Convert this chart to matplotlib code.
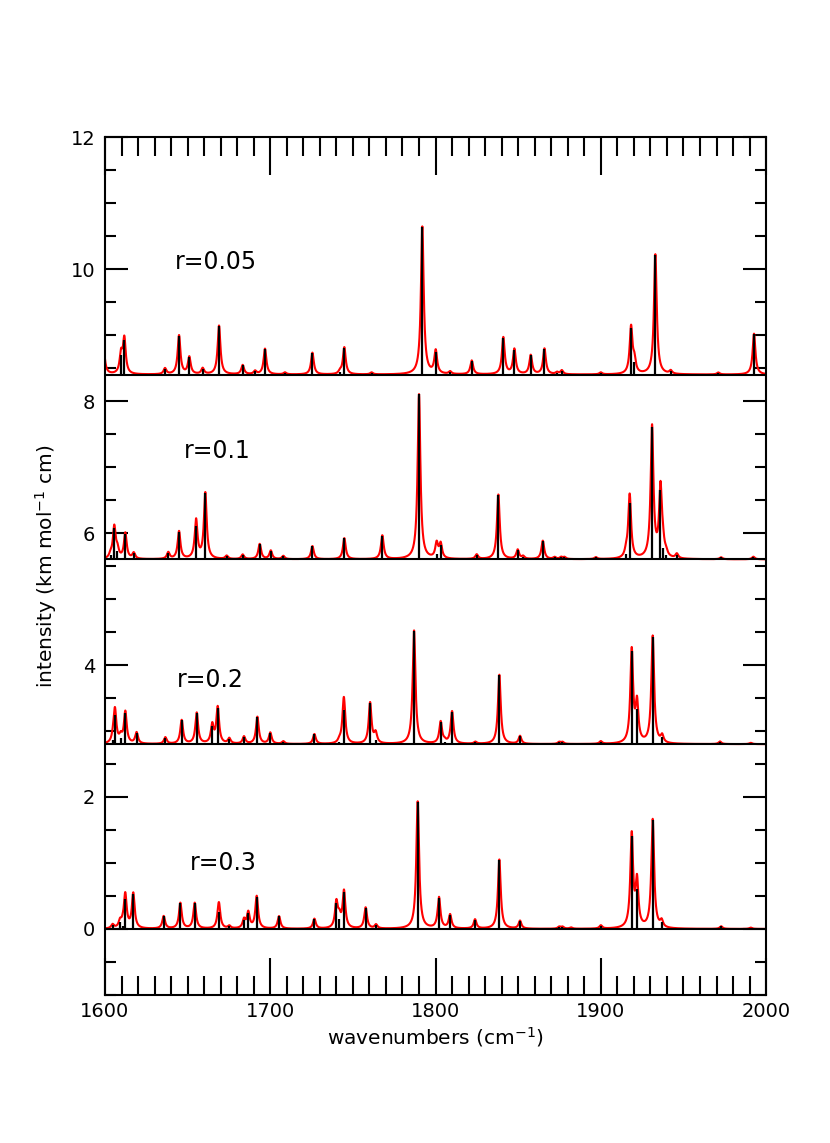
import numpy as np
import matplotlib
matplotlib.use('Agg')
import matplotlib.pyplot as plt
from matplotlib.ticker import MultipleLocator

# stick spectra (wavenumber in cm-1, intensity)
wn_005 = [1599.0, 1609.7, 1611.7, 1636.3, 1644.8, 1651.0, 1659.1, 1669.0, 1683.3, 1690.8,
          1696.8, 1708.9, 1725.5, 1742.2, 1744.8, 1761.3, 1792.0, 1800.1, 1808.8, 1821.9,
          1841.0, 1847.7, 1857.6, 1865.9, 1873.5, 1876.4, 1900.0, 1918.3, 1920.3, 1933.0,
          1942.3, 1971.1, 1992.7]
int_005 = [0.46, 0.29, 0.53, 0.09, 0.59, 0.26, 0.09, 0.74, 0.14, 0.05,
           0.39, 0.03, 0.33, 0.04, 0.41, 0.03, 2.24, 0.35, 0.04, 0.21,
           0.56, 0.38, 0.29, 0.39, 0.03, 0.06, 0.03, 0.71, 0.19, 1.82,
           0.05, 0.03, 0.62]

wn_01 = [1603.4, 1605.6, 1607.5, 1612.3, 1617.4, 1638.3, 1644.8, 1655.1, 1660.7, 1673.6,
         1683.3, 1693.6, 1700.3, 1707.9, 1725.5, 1744.8, 1767.8, 1790.0, 1800.6, 1803.1,
         1824.9, 1838.0, 1849.7, 1853.0, 1864.9, 1872.0, 1876.0, 1878.0, 1897.0, 1915.3,
         1917.5, 1931.0, 1936.1, 1937.5, 1939.5, 1946.0, 1972.8, 1992.3]
int_01 = [0.06, 0.48, 0.13, 0.39, 0.09, 0.10, 0.42, 0.51, 1.00, 0.05,
          0.07, 0.23, 0.13, 0.05, 0.20, 0.32, 0.36, 2.50, 0.08, 0.22,
          0.07, 0.98, 0.14, 0.04, 0.28, 0.03, 0.03, 0.03, 0.03, 0.08,
          0.86, 2.00, 1.05, 0.17, 0.06, 0.07, 0.03, 0.04]

wn_02 = [1605.0, 1606.0, 1609.5, 1612.3, 1619.1, 1636.5, 1646.4, 1655.5, 1664.9, 1668.2,
         1675.2, 1684.1, 1692.2, 1700.0, 1707.9, 1726.7, 1741.8, 1744.6, 1760.4, 1764.0,
         1787.0, 1803.1, 1805.5, 1810.0, 1824.1, 1838.6, 1851.1, 1874.8, 1876.8, 1900.0,
         1918.7, 1921.9, 1931.4, 1937.1, 1972.1, 1990.7]
int_02 = [0.07, 0.45, 0.10, 0.48, 0.17, 0.10, 0.36, 0.47, 0.28, 0.55,
          0.08, 0.11, 0.41, 0.17, 0.04, 0.15, 0.04, 0.52, 0.62, 0.06,
          1.72, 0.33, 0.03, 0.49, 0.03, 1.05, 0.12, 0.03, 0.03, 0.04,
          1.41, 0.53, 1.63, 0.11, 0.04, 0.02]

wn_03 = [1604.6, 1609.1, 1610.7, 1612.3, 1617.1, 1635.5, 1645.6, 1654.3, 1669.0, 1675.2,
         1684.1, 1686.7, 1691.8, 1705.3, 1726.7, 1740.0, 1741.8, 1744.6, 1757.7, 1764.0,
         1789.2, 1802.1, 1808.8, 1823.9, 1838.6, 1851.1, 1874.8, 1876.8, 1882.0, 1900.0,
         1918.7, 1921.9, 1931.4, 1936.8, 1972.8, 1990.7]
int_03 = [0.06, 0.10, 0.04, 0.45, 0.53, 0.19, 0.39, 0.39, 0.26, 0.04,
          0.13, 0.24, 0.49, 0.19, 0.15, 0.39, 0.15, 0.56, 0.32, 0.06,
          1.93, 0.47, 0.21, 0.14, 1.05, 0.12, 0.03, 0.03, 0.02, 0.05,
          1.41, 0.61, 1.65, 0.10, 0.04, 0.02]

# bands seen only in the broadened (red) curve
extra_wn_005 = []
extra_int_005 = []
extra_wn_01 = [1800.7, 1655.3, 1917.2]
extra_int_01 = [0.15, 0.08, 0.12]
extra_wn_02 = [1606.2, 1744.3, 1763.6, 1921.8]
extra_int_02 = [0.06, 0.20, 0.10, 0.06]
extra_wn_03 = [1612.0, 1668.7, 1921.8]
extra_int_03 = [0.07, 0.15, 0.08]

labels = ['r=0.05', 'r=0.1', 'r=0.2', 'r=0.3']
offsets = [8.4, 5.6, 2.8, 0.0]
label_pos = [(1642.4, 10.1), (1647.8, 7.24), (1643.6, 3.77), (1651.4, 1.0)]

sticks = [(wn_005, int_005), (wn_01, int_01), (wn_02, int_02), (wn_03, int_03)]
extras = [(extra_wn_005, extra_int_005), (extra_wn_01, extra_int_01),
          (extra_wn_02, extra_int_02), (extra_wn_03, extra_int_03)]

hwhm = 1.0
grid = np.linspace(1590, 2010, 8000)


def broaden(pos, height):
    spec = np.zeros_like(grid)
    for p, h in zip(pos, height):
        spec += h * hwhm**2 / ((grid - p)**2 + hwhm**2)
    return spec


fig = plt.figure(figsize=(8.3, 11.43), dpi=100)
ax = fig.add_axes([0.1265, 0.1295, 0.7965, 0.7506])

for (pos, h), (epos, eh), off, lab, lp in zip(sticks, extras, offsets, labels, label_pos):
    spec = broaden(list(pos) + list(epos), list(h) + list(eh))
    ax.plot(grid, spec + off, color='red', lw=1.5, zorder=2)
    ax.vlines(pos, off, np.array(h) + off, color='black', lw=1.6, zorder=3)
    if off > 0:
        ax.axhline(off, color='black', lw=1.5, zorder=4)
    ax.text(lp[0], lp[1], lab, fontsize=17, va='center', ha='left')

ax.axhline(0, color='black', lw=1.5, zorder=4)

ax.set_xlim(1600, 2000)
ax.set_ylim(-1, 12)
ax.xaxis.set_major_locator(MultipleLocator(100))
ax.xaxis.set_minor_locator(MultipleLocator(10))
ax.yaxis.set_major_locator(MultipleLocator(2))
ax.yaxis.set_minor_locator(MultipleLocator(0.5))
ax.tick_params(axis='both', which='both', direction='in', top=True, right=True,
               width=1.5, labelsize=14)
ax.tick_params(axis='x', which='major', length=27, pad=5)
ax.tick_params(axis='x', which='minor', length=14)
ax.tick_params(axis='y', which='major', length=16.5, pad=7)
ax.tick_params(axis='y', which='minor', length=8)
for s in ax.spines.values():
    s.set_linewidth(1.5)

ax.set_xlabel('wavenumbers (cm$^{-1}$)', fontsize=14.5, labelpad=3)
ax.set_ylabel('intensity (km mol$^{-1}$ cm)', fontsize=14.5, labelpad=8)

plt.savefig('out.png', dpi=100)
